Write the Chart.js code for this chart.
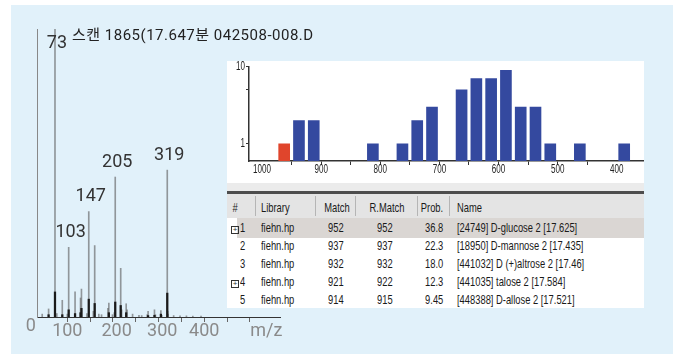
<!DOCTYPE html>
<html>
<head>
<meta charset="utf-8">
<script src="https://cdn.jsdelivr.net/npm/chart.js@4.4.0/dist/chart.umd.min.js"></script>
<style>
  body { margin: 0; background: #fff; width: 675px; height: 354px; overflow: hidden; position: relative; }
  #bg { position: absolute; left: 11px; top: 5px; width: 662px; height: 349px; background: #e1f1fa; }
  #spec { position: absolute; left: 0; top: 0; }
  #title { position: absolute; left: 72px; top: 26px; font: 15px Roboto, "Noto Sans CJK KR", sans-serif; letter-spacing: 0.5px; color: #222; white-space: nowrap; line-height: 18px; }
  #panel { position: absolute; left: 227px; top: 61px; width: 417px; height: 247px; background: #fff; overflow: hidden; }
  #hist { position: absolute; left: 222px; top: 55px; }
  .cell { position: absolute; font: 13px "Liberation Sans", Arial, sans-serif; color: #1a1a1a; white-space: nowrap; line-height: 14px; transform: scaleX(0.72); }
</style>
</head>
<body>
<div id="bg"></div>
<canvas id="spec" width="675" height="354"></canvas>
<div id="title">스캔 1865(17.647분 042508-008.D</div>
<div id="panel"></div>
<canvas id="hist" width="422" height="128"></canvas>
<script>
// mass spectrum (gray = sample scan, black = overlay)
const mzGray = [45, 59, 73, 77, 89, 100, 103, 117, 129, 131, 143, 147, 157, 160, 169, 175, 189, 191, 199, 203, 205, 217, 219, 229, 231, 243, 257, 263, 275, 277, 291, 293, 305, 307, 319, 320, 321, 333, 347, 361, 375, 393];
const intGray = [1.0, 2.8, 100, 1.2, 5.8, 1.0, 24.2, 8.7, 6.6, 9.7, 1.2, 36.6, 2.0, 24.8, 1.0, 0.8, 3.0, 4.8, 0.8, 1.5, 48.6, 16.9, 2.5, 4.6, 2.5, 1.0, 0.6, 0.5, 0.8, 2.0, 2.5, 0.8, 2.2, 0.6, 51, 2.0, 1.0, 0.5, 0.4, 0.4, 0.3, 0.3];
const mzBlack = [59, 73, 89, 103, 117, 129, 131, 147, 160, 191, 205, 217, 229, 277, 291, 305, 319];
const intBlack = [0.8, 8.7, 0.8, 2.5, 1.2, 1.5, 3.0, 6.2, 4.7, 1.5, 5.2, 4.0, 1.5, 0.5, 0.6, 1.0, 8.3];
const peakLabels = [73, 103, 147, 205, 319];
const axisLabelTexts = ['0', '100', '200', '300', '400', 'm/z'];
const axisLabelAt = [20, 100, 208, 308, 400, 536];

// library hit histogram
const binCenters = [962.5, 937.5, 912.5, 812.5, 762.5, 737.5, 712.5, 662.5, 637.5, 612.5, 587.5, 562.5, 537.5, 512.5, 462.5, 387.5];
const hitCounts = [1, 2, 2, 1, 1, 2, 3, 5, 7, 7, 9, 3, 3, 1, 1, 1];
const histXLabels = [1000, 900, 800, 700, 600, 500, 400];
const histYLabels = [1, 10];

// hit list table
const headers = ['#', 'Library', 'Match', 'R.Match', 'Prob.', 'Name'];
const rowNo = [1, 2, 3, 4, 5];
const rowLib = ['fiehn.hp', 'fiehn.hp', 'fiehn.hp', 'fiehn.hp', 'fiehn.hp'];
const rowMatch = [952, 937, 932, 921, 914];
const rowRMatch = [952, 937, 932, 922, 915];
const rowProb = ['36.8', '22.3', '18.0', '12.3', '9.45'];
const rowName = ['[24749] D-glucose 2 [17.625]', '[18950] D-mannose 2 [17.435]', '[441032] D (+)altrose 2 [17.46]', '[441035] talose 2 [17.584]', '[448388] D-allose 2 [17.521]'];
const rowExpand = [true, false, false, true, false];

const specLabels = {
    id: 'specLabels',
    afterDraw(chart) {
        const ctx = chart.ctx;
        const xs = chart.scales.x, ys = chart.scales.y;
        const area = chart.chartArea;
        ctx.save();
        ctx.textAlign = 'center';
        ctx.textBaseline = 'middle';
        ctx.font = '18px Roboto';
        ctx.fillStyle = '#333';
        peakLabels.forEach(m => {
            const i = mzGray.indexOf(m);
            const x = xs.getPixelForValue(m) + 2;
            const y = Math.max(ys.getPixelForValue(intGray[i]) - 15, area.top + 14);
            ctx.fillText(String(m), x, y);
        });
        ctx.fillStyle = '#8a8a8a';
        axisLabelTexts.forEach((t, i) => {
            const x = xs.getPixelForValue(axisLabelAt[i]);
            ctx.fillText(t, x, area.bottom + (i === 0 ? 9 : 14));
        });
        ctx.restore();
    }
};

// condensed tick labels for the histogram
const histLabels = {
    id: 'histLabels',
    afterDraw(chart) {
        const ctx = chart.ctx;
        const xs = chart.scales.x, ys = chart.scales.y;
        const area = chart.chartArea;
        ctx.save();
        ctx.fillStyle = '#222';
        ctx.font = '13px "Liberation Sans"';
        ctx.textBaseline = 'middle';
        ctx.textAlign = 'center';
        histXLabels.forEach(v => {
            ctx.save();
            ctx.translate(xs.getPixelForValue(v), area.bottom + 8);
            ctx.scale(0.62, 1);
            ctx.fillText(String(v), 0, 0);
            ctx.restore();
        });
        ctx.textAlign = 'right';
        histYLabels.forEach(v => {
            ctx.save();
            ctx.translate(area.left - 4, ys.getPixelForValue(v));
            ctx.scale(0.62, 1);
            ctx.fillText(String(v), 0, 0);
            ctx.restore();
        });
        ctx.restore();
    }
};

new Chart(document.getElementById('spec'), {
    type: 'bar',
    data: {
        datasets: [{
            data: mzBlack.map((m, i) => ({ x: m, y: intBlack[i] })),
            backgroundColor: '#1a1a1a',
            barThickness: 1.6,
            grouped: false
        }, {
            data: mzGray.map((m, i) => ({ x: m, y: intGray[i] })),
            backgroundColor: 'rgba(90,90,90,0.6)',
            barThickness: 1,
            grouped: false
        }]
    },
    options: {
        animation: false,
        responsive: false,
        layout: { padding: { left: 37, top: 29, right: 395, bottom: 37 } },
        plugins: { legend: { display: false }, tooltip: { enabled: false } },
        scales: {
            x: {
                type: 'linear', min: 33.6, max: 566, offset: false,
                grid: { drawOnChartArea: false, tickLength: 5, color: '#666', offset: false },
                border: { color: '#333' },
                ticks: { display: false, stepSize: 50 },
                afterBuildTicks: s => { s.ticks = s.ticks.filter(t => t.value % 50 === 0); },
                afterFit: s => { s.height = 0; }
            },
            y: {
                min: 0, max: 100,
                grid: { display: false },
                border: { color: '#888' },
                ticks: { display: false },
                afterFit: s => { s.width = 0; }
            }
        }
    },
    plugins: [specLabels]
});

new Chart(document.getElementById('hist'), {
    type: 'bar',
    data: {
        datasets: [{
            data: binCenters.map((c, i) => ({ x: c, y: hitCounts[i] })),
            backgroundColor: binCenters.map((c, i) => i === 0 ? '#e0452c' : '#34499f'),
            barThickness: 11
        }]
    },
    options: {
        animation: false,
        responsive: false,
        layout: { padding: { left: 0, top: 11.7, right: 0, bottom: 0 } },
        plugins: { legend: { display: false }, tooltip: { enabled: false } },
        scales: {
            x: {
                type: 'linear', reverse: true, min: 354, max: 1022, offset: false,
                grid: { drawOnChartArea: false, tickLength: 4, color: '#333', offset: false },
                border: { color: '#333', width: 1.5 },
                ticks: { display: false, stepSize: 50 },
                afterBuildTicks: s => { s.ticks = s.ticks.filter(t => t.value % 50 === 0); },
                afterFit: s => { s.height = 22; }
            },
            y: {
                type: 'logarithmic', min: 0.625, max: 10,
                grid: { drawOnChartArea: false, tickLength: 3, color: '#333' },
                border: { color: '#333', width: 1.5 },
                ticks: { display: false },
                afterBuildTicks: s => { s.ticks = [1, 5, 10].map(v => ({ value: v })); },
                afterFit: s => { s.width = 27; }
            }
        }
    },
    plugins: [histLabels]
});

// table below the histogram (panel coordinates)
const panel = document.getElementById('panel');
function box(l, t, w, h, bg) {
    const d = document.createElement('div');
    d.style.cssText = `position:absolute;left:${l}px;top:${t}px;width:${w}px;height:${h}px;background:${bg}`;
    panel.appendChild(d);
}
function text(str, x, cy, align) {
    const d = document.createElement('div');
    d.className = 'cell';
    d.textContent = str;
    d.style.top = (cy - 7) + 'px';
    if (align === 'left') { d.style.left = x + 'px'; d.style.transformOrigin = 'left center'; }
    else if (align === 'right') { d.style.right = (417 - x) + 'px'; d.style.transformOrigin = 'right center'; }
    else { d.style.left = (x - 40) + 'px'; d.style.width = '80px'; d.style.textAlign = 'center'; }
    panel.appendChild(d);
}
box(0, 122, 417, 8, '#ebebeb');
box(0, 130, 417, 3, '#4d4d4d');
box(0, 133, 417, 24, '#e4e4e4');
[28, 88, 128, 190, 222].forEach(x => box(x, 135, 1, 20, '#b5b5b5'));
box(10, 157, 407, 20, '#dad6d3');
const headX = [8, 34, 110, 160, 205, 230];
const headAlign = ['center', 'left', 'center', 'center', 'center', 'left'];
headers.forEach((h, i) => text(h, headX[i], 147, headAlign[i]));
rowNo.forEach((n, i) => {
    const cy = 167 + i * 18;
    if (rowExpand[i]) {
        const p = document.createElement('div');
        p.style.cssText = `position:absolute;left:4px;top:${cy - 2}px;width:6px;height:6px;border:1px solid #333;font:8px/6px sans-serif;text-align:center;color:#333`;
        p.textContent = '+';
        panel.appendChild(p);
    }
    text(String(n), 18, cy, 'right');
    text(rowLib[i], 34, cy, 'left');
    text(String(rowMatch[i]), 117, cy, 'right');
    text(String(rowRMatch[i]), 166, cy, 'right');
    text(rowProb[i], 216, cy, 'right');
    text(rowName[i], 230, cy, 'left');
});
</script>
</body>
</html>
